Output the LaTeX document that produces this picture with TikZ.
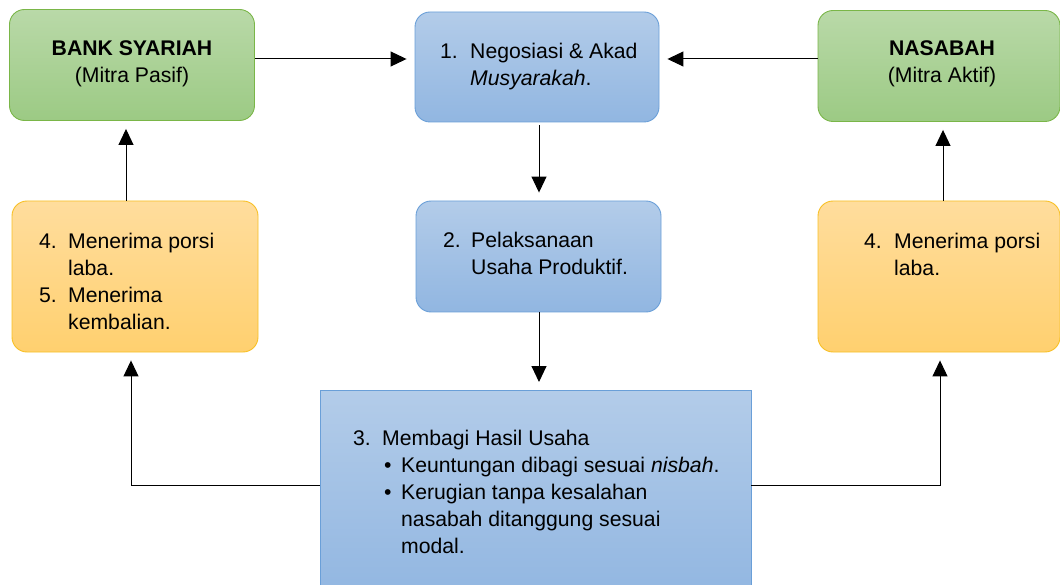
\documentclass[tikz,border=0pt]{standalone}
\usepackage{fontspec}
\setmainfont{Liberation Sans}
\usetikzlibrary{arrows.meta}
\definecolor{gtop}{HTML}{B9D9A8}
\definecolor{gbot}{HTML}{9CCA84}
\definecolor{gline}{HTML}{7AB648}
\definecolor{otop}{HTML}{FFDD9D}
\definecolor{obot}{HTML}{FFD06F}
\definecolor{oline}{HTML}{F8C025}
\definecolor{btop}{HTML}{B3CCE9}
\definecolor{bbot}{HTML}{91B6E1}
\definecolor{bline}{HTML}{6A9FD8}
\tikzset{
  box/.style={rounded corners=15pt, line width=0.9pt},
  greenbox/.style={box, draw=gline, top color=gtop, bottom color=gbot},
  orangebox/.style={box, draw=oline, top color=otop, bottom color=obot},
  bluebox/.style={box, draw=bline, top color=btop, bottom color=bbot},
  txt/.style={anchor=base west, inner sep=0pt, font=\fontsize{21.2}{27}\selectfont, text=black},
  ctxt/.style={anchor=base, inner sep=0pt, font=\fontsize{21.2}{27}\selectfont, text=black},
  conn/.style={draw=black, line width=1pt},
  arr/.style={conn, -{Triangle[length=16pt,width=15pt]}, shorten >=8pt},
}
\begin{document}
\begin{tikzpicture}[x=1pt,y=-1pt]
\useasboundingbox (0,0) rectangle (1060,585);
% boxes
\node[greenbox, minimum width=245pt, minimum height=111pt] (bank) at (132,65) {};
\node[bluebox, minimum width=244pt, minimum height=110pt] (nego) at (537,67) {};
\node[greenbox, minimum width=242pt, minimum height=111pt] (nas) at (939,66) {};
\node[orangebox, minimum width=246pt, minimum height=151pt] (lor) at (135,276.5) {};
\node[bluebox, minimum width=245pt, minimum height=111pt] (pel) at (538.5,256.5) {};
\node[orangebox, minimum width=242pt, minimum height=151pt] (ror) at (939,276.5) {};
\path[bluebox, rounded corners=0pt] (320,390) rectangle (751,600);
\coordinate (bot-w) at (320,485);
\coordinate (bot-e) at (751,485);
\coordinate (bot-n) at (539,390);
% texts
\node[ctxt, font=\fontsize{21.2}{27}\selectfont\bfseries] (t-bank1) at (132,56) {BANK SYARIAH};
\node[ctxt] (t-bank2) at (132,83) {(Mitra Pasif)};
\node[ctxt, font=\fontsize{21.2}{27}\selectfont\bfseries] (t-nas1) at (942,56) {NASABAH};
\node[ctxt] (t-nas2) at (942,83) {(Mitra Aktif)};
\node[txt] (n1) at (440,59) {1.};
\node[txt] (t-n1a) at (470,59) {Negosiasi \& Akad};
\node[txt] (t-n1b) at (470,86) {\itshape Musyarakah\upshape .};
\node[txt] (n2) at (443,248) {2.};
\node[txt] (t-n2a) at (471,248) {Pelaksanaan};
\node[txt] (t-n2b) at (471,275) {Usaha Produktif.};
\node[txt] (n4l) at (39,249) {4.};
\node[txt] (t-4la) at (68,249) {Menerima porsi};
\node[txt] (t-4lb) at (68,276) {laba.};
\node[txt] (n5l) at (39,303) {5.};
\node[txt] (t-5la) at (68,303) {Menerima};
\node[txt] (t-5lb) at (68,330) {kembalian.};
\node[txt] (n4r) at (864,249) {4.};
\node[txt] (t-4ra) at (894,249) {Menerima porsi};
\node[txt] (t-4rb) at (894,276) {laba.};
\node[txt] (n3) at (353,445) {3.};
\node[txt] (t-3) at (382,445) {Membagi Hasil Usaha};
\node[txt] (b1) at (384,472) {\textbullet};
\node[txt] (t-b1) at (401,472) {Keuntungan dibagi sesuai \itshape nisbah\upshape .};
\node[txt] (b2) at (384,499) {\textbullet};
\node[txt] (t-b2a) at (401,499) {Kerugian tanpa kesalahan};
\node[txt] (t-b2b) at (401,526) {nasabah ditanggung sesuai};
\node[txt] (t-b2c) at (401,553) {modal.};
% connectors
\draw[arr] (bank.east |- 0,59) -- (nego.west |- 0,59);
\draw[arr] (nas.west |- 0,59) -- (nego.east |- 0,59);
\draw[arr, shorten <=3pt] (nego.south -| 539,0) -- (pel.north -| 539,0);
\draw[arr] (pel.south -| 539,0) -- (bot-n);
\draw[arr] (lor.north -| 126,0) -- (bank.south -| 126,0);
\draw[arr] (ror.north -| 943,0) -- (nas.south -| 943,0);
\draw[arr] (bot-w) -| (lor.south -| 131,0);
\draw[arr] (bot-e) -| (ror.south -| 940,0);
\end{tikzpicture}
\end{document}
